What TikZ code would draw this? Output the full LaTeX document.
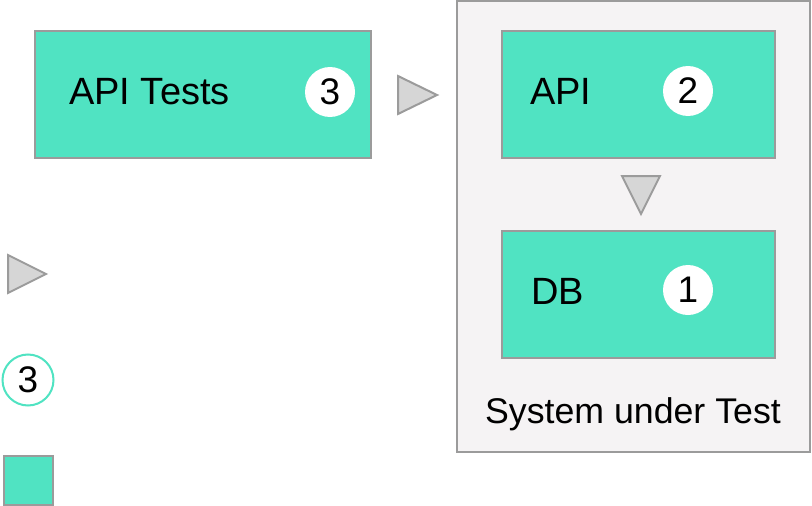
\documentclass[tikz,border=0pt]{standalone}
\usepackage{fontspec}
\setmainfont{Liberation Sans}
\definecolor{teal}{HTML}{50E3C2}
\definecolor{edge}{HTML}{9B9B9B}
\definecolor{trifill}{HTML}{D6D6D6}
\definecolor{sutfill}{HTML}{F5F3F4}
\begin{document}
\begin{tikzpicture}[x=1pt,y=-1pt,
  box/.style={draw=edge,fill=teal,line width=2pt,minimum width=#1,minimum height=127pt,inner sep=0pt},
  box/.default=336pt,
  badge/.style={circle,fill=white,minimum size=50pt,inner sep=0pt,font=\fontsize{37}{40}\selectfont},
  lbl/.style={anchor=base west,inner sep=0pt,font=\fontsize{38}{42}\selectfont},
  tri/.style={draw=edge,fill=trifill,line width=2pt,line join=miter}]
\useasboundingbox (0,0) rectangle (812,506);
% container
\node[draw=edge,fill=sutfill,line width=2pt,minimum width=353pt,minimum height=451pt,inner sep=0pt] (sut) at (633.5,226.5) {};
% boxes
\node[box=336pt] (tests) at (203,94.5) {};
\node[box=273pt] (api) at (638.5,94.5) {};
\node[box=273pt] (db) at (638.5,294.5) {};
% labels
\node[lbl] (testslbl) at (69,104) {API Tests};
\node[lbl] (apilbl) at (530,104) {API};
\node[lbl] (dblbl) at (531,304) {DB};
\node[anchor=base,inner sep=0pt,font=\fontsize{35.7}{40}\selectfont] (sutlbl) at (633,423) {System under Test};
% badges
\node[badge] (b3) at (330,92) {3};
\node[badge] (b2) at (688,91) {2};
\node[badge] (b1) at (688,290) {1};
% arrows (triangles)
\coordinate (t1a) at (398,76);
\coordinate (t1b) at (398,114);
\coordinate (t1c) at (437,95);
\draw[tri] (t1a) -- (t1c) -- (t1b) -- cycle;
\coordinate (t2a) at (622,176);
\coordinate (t2b) at (660,176);
\coordinate (t2c) at (641,214);
\draw[tri] (t2a) -- (t2b) -- (t2c) -- cycle;
% legend
\coordinate (l1a) at (8,255);
\coordinate (l1b) at (8,293);
\coordinate (l1c) at (46,274);
\draw[tri] (l1a) -- (l1c) -- (l1b) -- cycle;
\node[badge,draw=teal,line width=2pt,minimum size=51pt] (lb) at (28,380) {3};
\node[draw=edge,fill=teal,line width=2pt,minimum size=49pt,inner sep=0pt] (lsq) at (28,480) {};
\end{tikzpicture}
\end{document}
